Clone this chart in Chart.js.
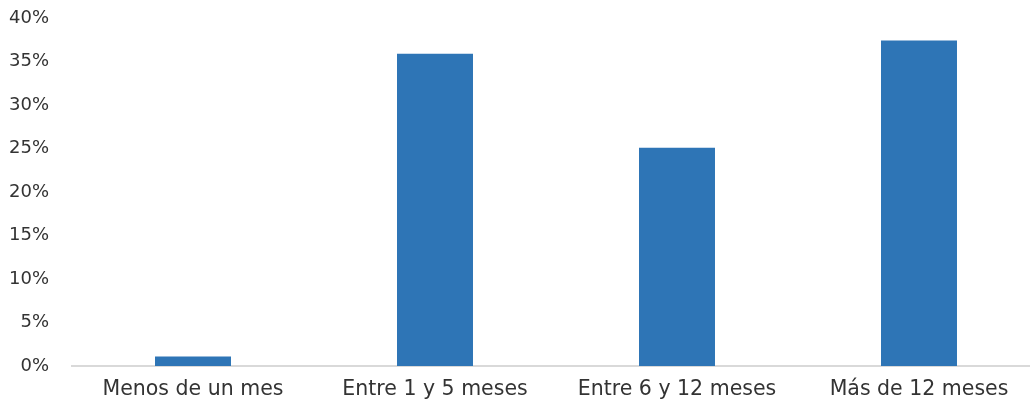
<!DOCTYPE html>
<html>
<head>
<meta charset="utf-8">
<script src="https://cdn.jsdelivr.net/npm/chart.js@4/dist/chart.umd.min.js"></script>
<style>
  html, body { margin: 0; padding: 0; background: #ffffff; overflow: hidden; }
  #wrap { position: relative; width: 1040px; height: 403px; }
</style>
</head>
<body>
<div id="wrap"><canvas id="c"></canvas></div>
<script>
const categories = ['Menos de un mes', 'Entre 1 y 5 meses', 'Entre 6 y 12 meses', 'Más de 12 meses'];
const values = [1.1, 35.9, 25.1, 37.4];
const yTickLabels = ['0%', '5%', '10%', '15%', '20%', '25%', '30%', '35%', '40%'];

const FONT = "'DejaVu Sans', sans-serif";
const TEXT = '#333333';

new Chart(document.getElementById('c'), {
  type: 'bar',
  data: {
    labels: categories,
    datasets: [{
      data: values,
      backgroundColor: '#2E75B6',
      borderWidth: 0,
      categoryPercentage: 1,
      barPercentage: 0.314
    }]
  },
  options: {
    responsive: true,
    maintainAspectRatio: false,
    animation: false,
    layout: { padding: 0 },
    plugins: { legend: { display: false }, tooltip: { enabled: false } },
    scales: {
      x: {
        grid: { display: false, drawTicks: false },
        border: { display: true, color: '#D9D9D9', width: 2 },
        ticks: { color: TEXT, font: { family: FONT, size: 20.5 }, padding: 11, maxRotation: 0, autoSkip: false },
        afterFit: (s) => { s.height = 37; s.paddingLeft = 0; s.paddingRight = 0; }
      },
      y: {
        min: 0, max: 40,
        grid: { display: false, drawTicks: false },
        border: { display: false },
        ticks: {
          stepSize: 5,
          color: TEXT,
          font: { family: FONT, size: 18 },
          padding: 23,
          callback: (v) => yTickLabels[Math.round(v / 5)]
        },
        afterFit: (s) => { s.width = 72; s.paddingTop = 18; s.paddingBottom = 0; }
      }
    }
  }
});
</script>
</body>
</html>
